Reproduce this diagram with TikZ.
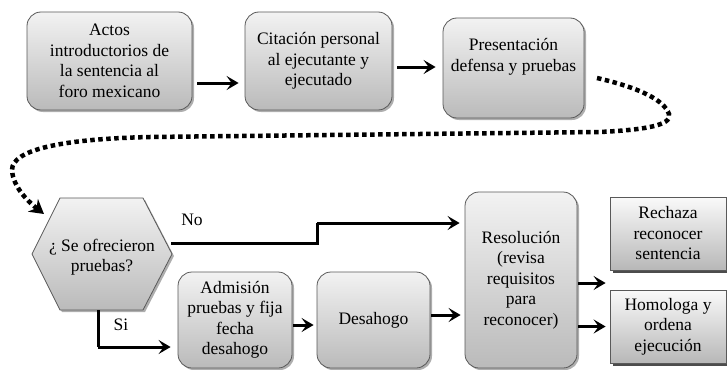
\documentclass[tikz,border=0pt]{standalone}
\usepackage{fontspec}
\setmainfont{Liberation Serif}
\usetikzlibrary{arrows.meta,shadows,calc}
\begin{document}
\begin{tikzpicture}[x=1pt,y=-1pt,
  font=\rmfamily\fontsize{17.5}{20.5}\selectfont,
  rbox/.style={draw=black!65, line width=0.8pt, rounded corners=14pt, align=center,
    top color=black!5, bottom color=black!27, inner sep=1pt,
    drop shadow={shadow xshift=2pt, shadow yshift=-2pt, opacity=0.45, fill=black!70}},
  sbox/.style={draw=black!65, line width=0.8pt, align=center,
    top color=black!2, bottom color=black!28, inner sep=1pt,
    drop shadow={shadow xshift=2.5pt, shadow yshift=-2.5pt, opacity=0.7, fill=black}},
  arr/.style={line width=3pt, -{Stealth[length=12pt,width=14pt,inset=5pt]}},
  dotline/.style={line width=4.5pt, dash pattern=on 4.5pt off 3.5pt, -{Stealth[length=14pt,width=16pt]}}]
\useasboundingbox (0,0) rectangle (727,369);

\node[rbox, minimum width=165pt, minimum height=98pt] (b1) at (109.5,61)
  {Actos\\introductorios de\\la sentencia al\\foro mexicano};
\node[rbox, minimum width=147pt, minimum height=98pt] (b2) at (318.5,61)
  {Citación personal\\al ejecutante y\\ejecutado};
\node[rbox, minimum width=141pt, minimum height=100pt] (b3) at (513.5,68)
  {Presentación\\defensa y pruebas\\\strut};

% hexagon
\fill[black!70, opacity=0.45] (34,256) -- (62,200) -- (145,200) -- (174,256) -- (145,312) -- (62,312) -- cycle;
\shade[top color=black!5, bottom color=black!27, draw=black!65, line width=0.8pt]
  (32,254) -- (60,198) -- (143,198) -- (172,254) -- (143,310) -- (60,310) -- cycle;
\node[align=center] (hex) at (102,257) {¿ Se ofrecieron\\pruebas?};
\coordinate (hexR) at (171,243);
\coordinate (hexB) at (98,310);

\node[rbox, minimum width=114pt, minimum height=96pt] (adm) at (235,320)
  {Admisión\\pruebas y fija\\fecha\\desahogo};
\node[rbox, minimum width=113pt, minimum height=96pt] (des) at (373.5,320) {Desahogo};
\node[rbox, minimum width=112pt, minimum height=176pt] (res) at (521,280)
  {Resolución\\(revisa\\requisitos\\para\\reconocer)};
\node[sbox, minimum width=116pt, minimum height=73pt] (rech) at (668,233.5)
  {Rechaza\\reconocer\\sentencia};
\node[sbox, minimum width=116pt, minimum height=73pt] (hom) at (668,326.5)
  {Homologa y\\ordena\\ejecución};

% connectors
\draw[arr, shorten <=5pt, shorten >=6pt] ([yshift=-22pt]b1.east) -- ([yshift=-22pt]b1.east -| b2.west);
\draw[arr, shorten <=5pt, shorten >=7pt] ([yshift=-6pt]b2.east) -- ([yshift=-6pt]b2.east -| b3.west);

\coordinate (d0) at (597,78);
\coordinate (d1) at (44,214);
\draw[dotline] (d0) .. controls (640,88) and (664,100) .. (669,114)
  .. controls (673,126) and (640,130) .. (600,132) -- (150,137)
  .. controls (60,139) and (12,150) .. (12,170)
  .. controls (13,188) and (30,203) .. (d1);

\draw[line width=3pt] (hexR) -- (317,243) -- (317,223) coordinate (nobend);
\draw[arr, shorten >=5pt] (nobend) -- (nobend -| res.west);
\node at (192,220) {No};

\draw[line width=3pt] (hexB) -- (98,347) coordinate (sibend);
\draw[arr, shorten >=7pt] (sibend) -- (sibend -| adm.west);
\node at (121,325) {Si};

\draw[arr, shorten <=1pt, shorten >=3pt] ([yshift=-5pt]adm.east) -- ([yshift=-5pt]adm.east -| des.west);
\draw[arr, shorten <=1pt, shorten >=4pt] ([yshift=5pt]des.east) -- ([yshift=5pt]des.east -| res.west);
\draw[arr, shorten <=1pt, shorten >=4pt] ([yshift=-3pt]res.east) -- ([yshift=-3pt]res.east -| rech.west);
\draw[arr, shorten <=1pt, shorten >=4pt] (res.east |- hom.west) -- (hom.west);
\end{tikzpicture}
\end{document}
